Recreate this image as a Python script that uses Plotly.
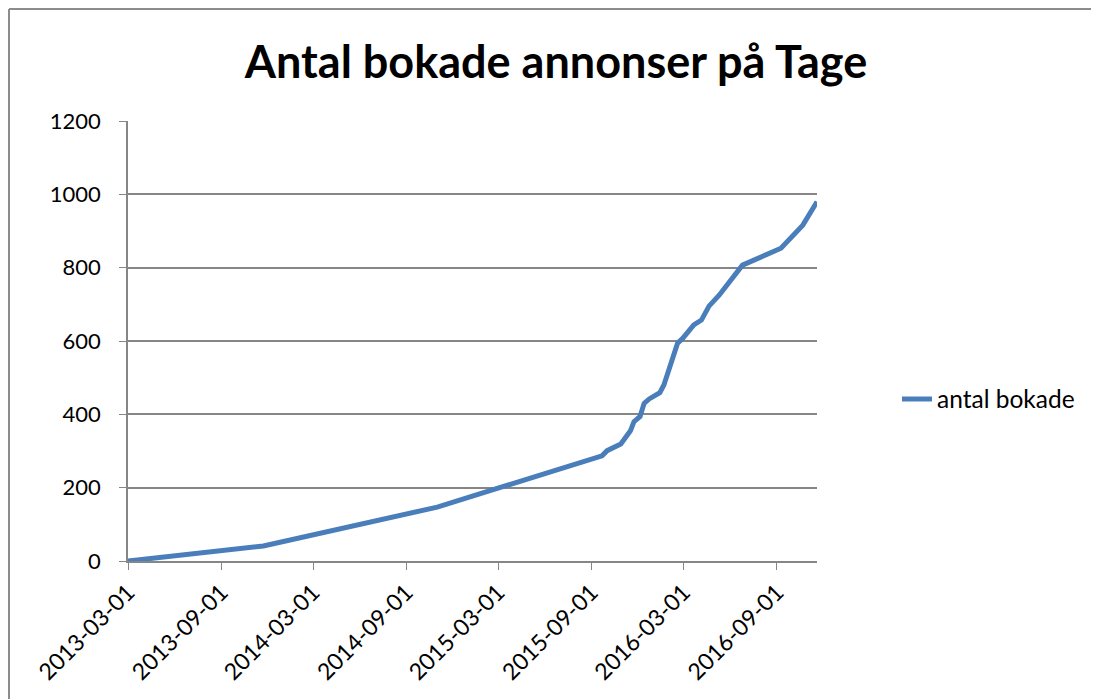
import plotly.graph_objects as go

dates = ["2013-03-01", "2013-11-23", "2014-11-01", "2015-09-22", "2015-10-02",
         "2015-10-29", "2015-11-17", "2015-11-24", "2015-12-06", "2015-12-14",
         "2015-12-24", "2016-01-14", "2016-01-22", "2016-02-01", "2016-02-18",
         "2016-02-28", "2016-03-21", "2016-04-05", "2016-04-14", "2016-04-20",
         "2016-05-10", "2016-06-25", "2016-09-09", "2016-10-22", "2016-11-19"]
values = [0, 41, 147, 287, 301, 319, 355, 380, 394, 430, 442, 459, 480, 521,
          594, 607, 644, 657, 680, 695, 725, 807, 853, 916, 980]

tick_dates = ["2013-03-01", "2013-09-01", "2014-03-01", "2014-09-01",
              "2015-03-01", "2015-09-01", "2016-03-01", "2016-09-01"]
y_ticks = [0, 200, 400, 600, 800, 1000, 1200]

FONT = "Lato, 'Open Sans', sans-serif"
GRID = "#868686"

W, H = 1091, 691  # page body has an 8px margin
L, T = 120, 113
PW, PH = 689, 440
R, B = W - L - PW, H - T - PH

fig = go.Figure()
fig.add_trace(go.Scatter(
    x=dates, y=values, mode="lines", name="antal bokade",
    line=dict(color="#4A7EBB", width=5, shape="linear"),
))

fig.update_layout(
    width=W, height=H,
    margin=dict(l=L, r=R, t=T, b=B, autoexpand=False),
    paper_bgcolor="white", plot_bgcolor="white",
    font=dict(family=FONT, size=22, color="#000000"),
    title=dict(text="<b>Antal bokade annonser på Tage</b>",
               x=548 / W, xref="container", xanchor="center",
               y=1 - 54 / H, yref="container", yanchor="middle",
               font=dict(family=FONT, size=45, color="#000000")),
    showlegend=True,
    legend=dict(x=(889 - L) / PW, y=(553 - 391) / PH, xref="paper", yref="paper",
                xanchor="left", yanchor="middle",
                font=dict(family=FONT, size=24.5, color="#000000"),
                bgcolor="rgba(0,0,0,0)"),
    xaxis=dict(
        type="date", range=["2013-03-01", "2016-11-19"],
        tickmode="array", tickvals=tick_dates, ticktext=tick_dates,
        tickangle=-45, showgrid=False, showline=True, linecolor=GRID,
        linewidth=1.5, ticks="outside", ticklen=7, tickcolor=GRID,
        tickfont=dict(family=FONT, size=23, color="#000000"), zeroline=False,
    ),
    yaxis=dict(
        range=[0, 1200], tickmode="array", tickvals=y_ticks,
        showgrid=True, gridcolor=GRID, gridwidth=1.5,
        showline=True, linecolor=GRID, linewidth=1.5,
        ticks="outside", ticklen=7, tickcolor=GRID,
        tickfont=dict(family=FONT, size=22, color="#000000"),
        zeroline=False, ticklabelstandoff=14,
    ),
)

# chart area border (left and top edges visible)
bx = (1 - L) / PW
by = (T + PH - 1) / PH
fig.add_shape(type="line", xref="paper", yref="paper",
              x0=bx, x1=bx, y0=-0.4, y1=by,
              line=dict(color="#8C8C8C", width=2))
fig.add_shape(type="line", xref="paper", yref="paper",
              x0=bx, x1=(W - L) / PW, y0=by, y1=by,
              line=dict(color="#8C8C8C", width=2))

hide_scroll = ("document.documentElement.style.overflow='hidden';"
               "document.body.style.overflow='hidden';")
fig.write_html("out.html", post_script=hide_scroll)
